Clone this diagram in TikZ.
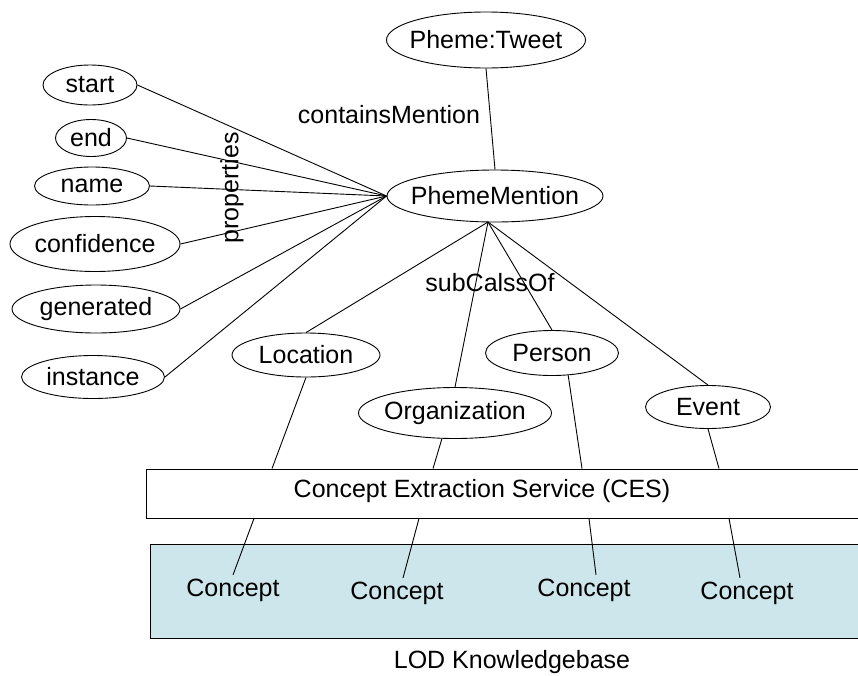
\documentclass[tikz,border=0pt]{standalone}
\usepackage{fontspec}
\setmainfont{Liberation Sans}
\usepackage{xcolor}
\usepackage{tikz}
\usetikzlibrary{shapes,positioning}

\definecolor{lodblue}{RGB}{205,230,236}

\begin{document}
\begin{tikzpicture}[
    x=1pt, y=-1pt,
    font=\fontsize{25}{30}\selectfont,
    every path/.style={line width=0.9pt},
    oval/.style={ellipse, draw, line width=0.9pt, inner sep=0pt},
    band/.style={rectangle, draw, line width=0.9pt, inner sep=0pt},
    tag/.style={inner sep=0pt}
]
    \useasboundingbox (0,0) rectangle (858,675);

    % tweet and mention
    \node[oval, minimum width=199, minimum height=56, label=center:Pheme:Tweet] (tweet) at (486,40) {};
    \node[oval, minimum width=216, minimum height=52, label=center:PhemeMention] (pm) at (495,196) {};
    \node[tag] (contains) at (389,115) {containsMention};
    \draw (tweet.south) -- (pm.north);

    % properties
    \node[oval, minimum width=94, minimum height=40, label=center:start] (start) at (90,85) {};
    \node[oval, minimum width=71, minimum height=37, label=center:end] (end) at (91,138) {};
    \node[oval, minimum width=115, minimum height=38, label=center:name] (name) at (92,186) {};
    \node[oval, minimum width=170, minimum height=55, label=center:confidence] (conf) at (95,244) {};
    \node[oval, minimum width=168, minimum height=48, label=center:generated] (gen) at (96,309) {};
    \node[oval, minimum width=143, minimum height=43, label=center:instance] (inst) at (93,377) {};
    \node[tag, rotate=90] (props) at (232,188) {properties};
    \foreach \p in {start,end,name,conf,gen,inst}
        \draw (\p.east) -- (pm.west);

    % subclasses
    \coordinate (hub) at (488,222);
    \node[oval, minimum width=148, minimum height=44, label=center:Location] (loc) at (306,355) {};
    \node[oval, minimum width=193, minimum height=51, label=center:Organization] (org) at (455,413) {};
    \node[oval, minimum width=133, minimum height=45, label=center:Person] (pers) at (552,353) {};
    \node[oval, minimum width=125, minimum height=43, label=center:Event] (event) at (708,407) {};
    \node[tag] (subclass) at (490,283) {subCalssOf};
    \foreach \c in {loc,org,pers,event}
        \draw (hub) -- (\c.north);

    % extraction service
    \node[band, minimum width=724, minimum height=49] (ces) at (508,493.5) {};
    \node[tag] (cestext) at (482,491) {Concept Extraction Service (CES)};
    \draw (loc.south) -- (272,0 |- ces.north);
    \draw (org.243) -- (433,0 |- ces.north);
    \draw (pers.306) -- (582,0 |- ces.north);
    \draw (event.south) -- (719,0 |- ces.north);

    % knowledge base
    \node[band, fill=lodblue, minimum width=720, minimum height=94] (lod) at (510,591) {};
    \node (c1) at (233,590) {Concept};
    \node (c2) at (397,593) {Concept};
    \node (c3) at (584,590) {Concept};
    \node (c4) at (747,593) {Concept};
    \node[tag] (lodtext) at (512,662) {LOD Knowledgebase};
    \draw (254,0 |- ces.south) -- (c1.north);
    \draw (419,0 |- ces.south) -- (403,0 |- c2.north);
    \draw (589,0 |- ces.south) -- (596,0 |- c3.north);
    \draw (729,0 |- ces.south) -- (740,0 |- c4.north);
\end{tikzpicture}
\end{document}
